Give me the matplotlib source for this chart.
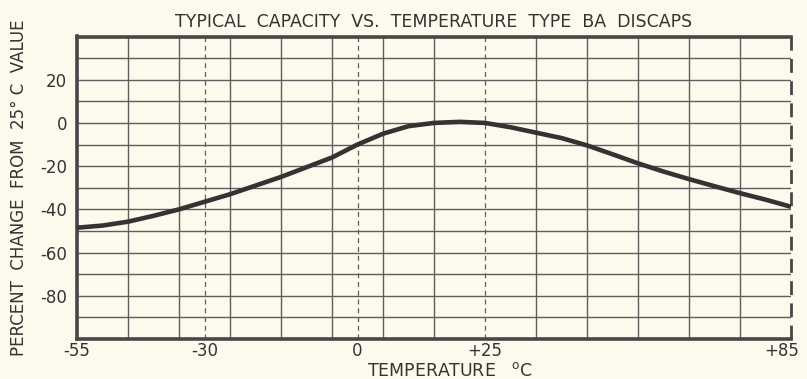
"""
Typical capacity vs. temperature, Type BA Discaps.
Percent change from the 25 C value over -55 .. +85 C.
"""

import numpy as np
import matplotlib.pyplot as plt
from matplotlib.transforms import ScaledTranslation

plt.rcParams['font.family'] = 'DejaVu Sans'
plt.rcParams['font.size'] = 11
plt.rcParams['axes.unicode_minus'] = False

# Capacity curve, read at 5 degree steps
temp_c = [-55, -50, -45, -40, -35, -30, -25, -20, -15, -10, -5, 0, 5,
          10, 15, 20, 25, 30, 35, 40, 45, 50, 55, 60, 65, 70, 75, 80, 85]
pct_change = [-48.5, -47.5, -45.7, -43.0, -40.0, -36.5, -33.0, -29.0,
              -25.0, -20.5, -16.0, -10.0, -5.0, -1.5, 0.0, 0.5, 0.0,
              -2.0, -4.5, -7.0, -10.4, -14.5, -18.7, -22.5, -26.0,
              -29.3, -32.5, -35.5, -38.8]

x_ticks = [-55, -30, 0, 25, 85]
x_tick_labels = ['-55', '-30', '0', '+25', '+85']
y_ticks = [20, 0, -20, -40, -60, -80]

solid_x = [-45, -35, -25, -15, -5, 5, 15, 35, 45, 55, 65, 75]
dashed_x = [-30, 0, 25]
grid_y = [-90, -80, -70, -60, -50, -40, -30, -20, -10, 0, 10, 20, 30]

bg = '#fcfaec'
ink = '#474747'
txt = '#333333'

fig = plt.figure(figsize=(8.07, 3.79), dpi=100, facecolor=bg)
ax = fig.add_axes([77 / 807, 1 - 339 / 379, 714 / 807, 302.5 / 379])
ax.set_facecolor(bg)
ax.set_xlim(-55, 85)
ax.set_ylim(-100, 40)

# chart paper grid
for gx in solid_x:
    ax.axvline(gx, color='#5e5e5e', linewidth=1.0, zorder=1)
for gx in dashed_x:
    ax.axvline(gx, color='#5e5e5e', linewidth=0.9, linestyle=(0, (4, 3)), zorder=1)
for gy in grid_y:
    ax.axhline(gy, color='#5e5e5e', linewidth=1.0, zorder=1)

# frame: heavy left/top/bottom, dashed right
for side in ['left', 'top', 'bottom']:
    ax.spines[side].set_linewidth(2.6)
    ax.spines[side].set_color(ink)
ax.spines['right'].set_visible(False)
ax.axvline(85, color=ink, linewidth=2.0, linestyle=(0, (5, 3)), zorder=3,
           clip_on=False)

ax.plot(temp_c, pct_change, color='#333333', linewidth=3.3,
        solid_capstyle='butt', zorder=4)

ax.set_xticks(x_ticks)
ax.set_xticklabels(x_tick_labels)
ax.set_yticks(y_ticks)
ax.tick_params(length=0, colors=txt, labelsize=12)
ax.tick_params(axis='x', pad=2)
ax.tick_params(axis='y', pad=7)

# keep +85 inside the figure
last = ax.get_xticklabels()[-1]
last.set_horizontalalignment('right')
last.set_transform(last.get_transform() + ScaledTranslation(8 / 100, 0, fig.dpi_scale_trans))

ax.set_title('TYPICAL  CAPACITY  VS.  TEMPERATURE  TYPE  BA  DISCAPS',
             fontsize=12.5, color=txt, pad=7)
ax.set_ylabel('PERCENT  CHANGE  FROM  25\u00b0 C  VALUE', fontsize=12,
              color=txt, labelpad=9)
fig.text(450 / 807, 1 - 371 / 379, 'TEMPERATURE   $^{\\mathregular{o}}$C',
         ha='center', va='center', fontsize=12.5, color=txt)

fig.savefig('out.png', dpi=100, facecolor=bg)
